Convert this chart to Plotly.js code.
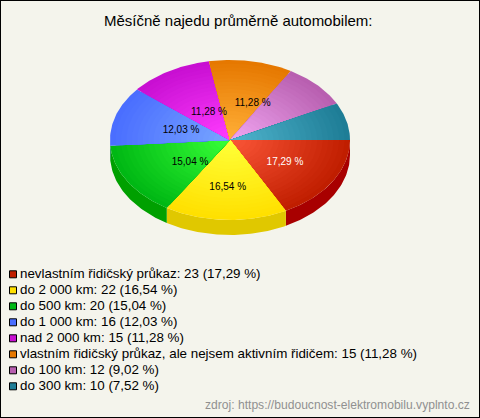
<!DOCTYPE html>
<html>
<head>
<meta charset="utf-8">
<script src="https://cdn.plot.ly/plotly-3.0.1.min.js"></script>
<style>html,body{margin:0;padding:0;background:#f4f4ec}#c{width:480px;height:418px}</style>
</head>
<body>
<div id="c"></div>
<script>
var categories = ["nevlastním řidičský průkaz","do 2 000 km","do 500 km","do 1 000 km","nad 2 000 km","vlastním řidičský průkaz, ale nejsem aktivním řidičem","do 100 km","do 300 km"];
var values = [23,22,20,16,15,15,12,10];
var percents = ["17,29","16,54","15,04","12,03","11,28","11,28","9,02","7,52"];
var outerColors = ["#c01e00","#ffe000","#00b814","#4a6eff","#c80fd2","#e67800","#b85fb0","#1e7d96"];
var innerColors = ["#fa5537","#ffff37","#37ff37","#78a5ff","#ff3cff","#ffaf37","#f0a5f0","#50b4cd"];
var sideColors = ["#a80000","#e0c800","#00a000","#3050d0","#a000a0","#c06000","#a04090","#106070"];
var sliceTextColors = ["#ffffff","#000000","#000000","#000000","#000000","#000000"];
var sliceTextFx = [0.458,-0.019,-0.333,-0.408,-0.175,0.189];
var sliceTextFy = [0.2625,0.575,0.2625,-0.1375,-0.3625,-0.475];

var W=480,H=418,cx=230,cy=140,rx=120,ry=80,depth=15,rings=22;
var total=values.reduce(function(a,b){return a+b;},0);
function hex(c){return [1,3,5].map(function(i){return parseInt(c.substr(i,2),16);});}
function mix(a,b,t){var A=hex(a),B=hex(b);return "rgb("+A.map(function(v,i){return Math.round(v+(B[i]-v)*t);}).join(",")+")";}
var traces=[];
var angles=[0];
values.forEach(function(v,i){angles.push(angles[i]+v/total*2*Math.PI);});

// Side wall of the front half of the pie
values.forEach(function(v,i){
  var a0=angles[i],a1=Math.min(angles[i+1],Math.PI);
  if(a0>=Math.PI) return;
  var xs=[],ys=[],n=Math.max(2,Math.ceil((a1-a0)*60)),k,t;
  for(k=0;k<=n;k++){t=a0+(a1-a0)*k/n;xs.push(cx+rx*Math.cos(t));ys.push(cy+ry*Math.sin(t));}
  for(k=n;k>=0;k--){t=a0+(a1-a0)*k/n;xs.push(cx+rx*Math.cos(t));ys.push(cy+depth+ry*Math.sin(t));}
  xs.push(xs[0]);ys.push(ys[0]);
  traces.push({type:"scatter",mode:"lines",x:xs,y:ys,fill:"toself",fillcolor:sideColors[i],line:{width:0},hoverinfo:"skip",showlegend:false});
});

// Top face: each wedge is stacked from outer colour to inner colour
values.forEach(function(v,i){
  var a0=angles[i],a1=angles[i+1];
  for(var r=0;r<rings;r++){
    var f=1-r/rings,xs=[cx],ys=[cy],n=Math.ceil((a1-a0)*60);
    for(var k=0;k<=n;k++){var t=a0+(a1-a0)*k/n;xs.push(cx+f*rx*Math.cos(t));ys.push(cy+f*ry*Math.sin(t));}
    xs.push(cx);ys.push(cy);
    traces.push({type:"scatter",mode:"lines",x:xs,y:ys,fill:"toself",fillcolor:mix(outerColors[i],innerColors[i],r/(rings-1)),line:{width:0},hoverinfo:"skip",showlegend:false});
  }
});

// Percent labels on the slices
traces.push({type:"scatter",mode:"text",
  x:sliceTextFx.map(function(f){return cx+f*rx;}),
  y:sliceTextFy.map(function(f){return cy+1+f*ry;}),
  text:sliceTextFx.map(function(f,i){return percents[i]+" %";}),
  textposition:"middle center",
  textfont:{family:"Liberation Sans",size:10,color:sliceTextColors},
  hoverinfo:"skip",showlegend:false});

// Legend rows
var legendY=categories.map(function(c,i){return 274.3+i*16;});
traces.push({type:"scatter",mode:"markers",
  x:categories.map(function(){return 13;}),y:legendY,
  marker:{symbol:"square",size:7,color:outerColors,line:{color:"#000000",width:1}},
  hoverinfo:"skip",showlegend:false});
traces.push({type:"scatter",mode:"text",
  x:categories.map(function(){return 20;}),y:legendY.map(function(y){return y+0.7;}),
  text:categories.map(function(c,i){return c+": "+values[i]+" ("+percents[i]+" %)";}),
  textposition:"middle right",
  textfont:{family:"Liberation Sans",size:13.37,color:"#000000"},
  hoverinfo:"skip",showlegend:false});

var layout={
  width:W,height:H,margin:{l:0,r:0,t:0,b:0},
  paper_bgcolor:"#f4f4ec",plot_bgcolor:"#f4f4ec",showlegend:false,
  xaxis:{range:[0,W],visible:false,fixedrange:true},
  yaxis:{range:[H,0],visible:false,fixedrange:true},
  annotations:[
    {xref:"x",yref:"y",x:237.5,y:20.5,text:"Měsíčně najedu průměrně automobilem:",showarrow:false,xanchor:"center",yanchor:"middle",font:{family:"Liberation Sans",size:15,color:"#000000"}},
    {xref:"x",yref:"y",x:471.5,y:405,text:"zdroj: https://budoucnost-elektromobilu.vyplnto.cz",showarrow:false,xanchor:"right",yanchor:"middle",font:{family:"Liberation Sans",size:12.1,color:"#909090"}}
  ],
  shapes:[{type:"rect",xref:"paper",yref:"paper",x0:0,x1:1,y0:0,y1:1,line:{color:"#000000",width:2},fillcolor:"rgba(0,0,0,0)"}]
};
Plotly.newPlot("c",traces,layout,{displayModeBar:false,staticPlot:true});
</script>
</body>
</html>
